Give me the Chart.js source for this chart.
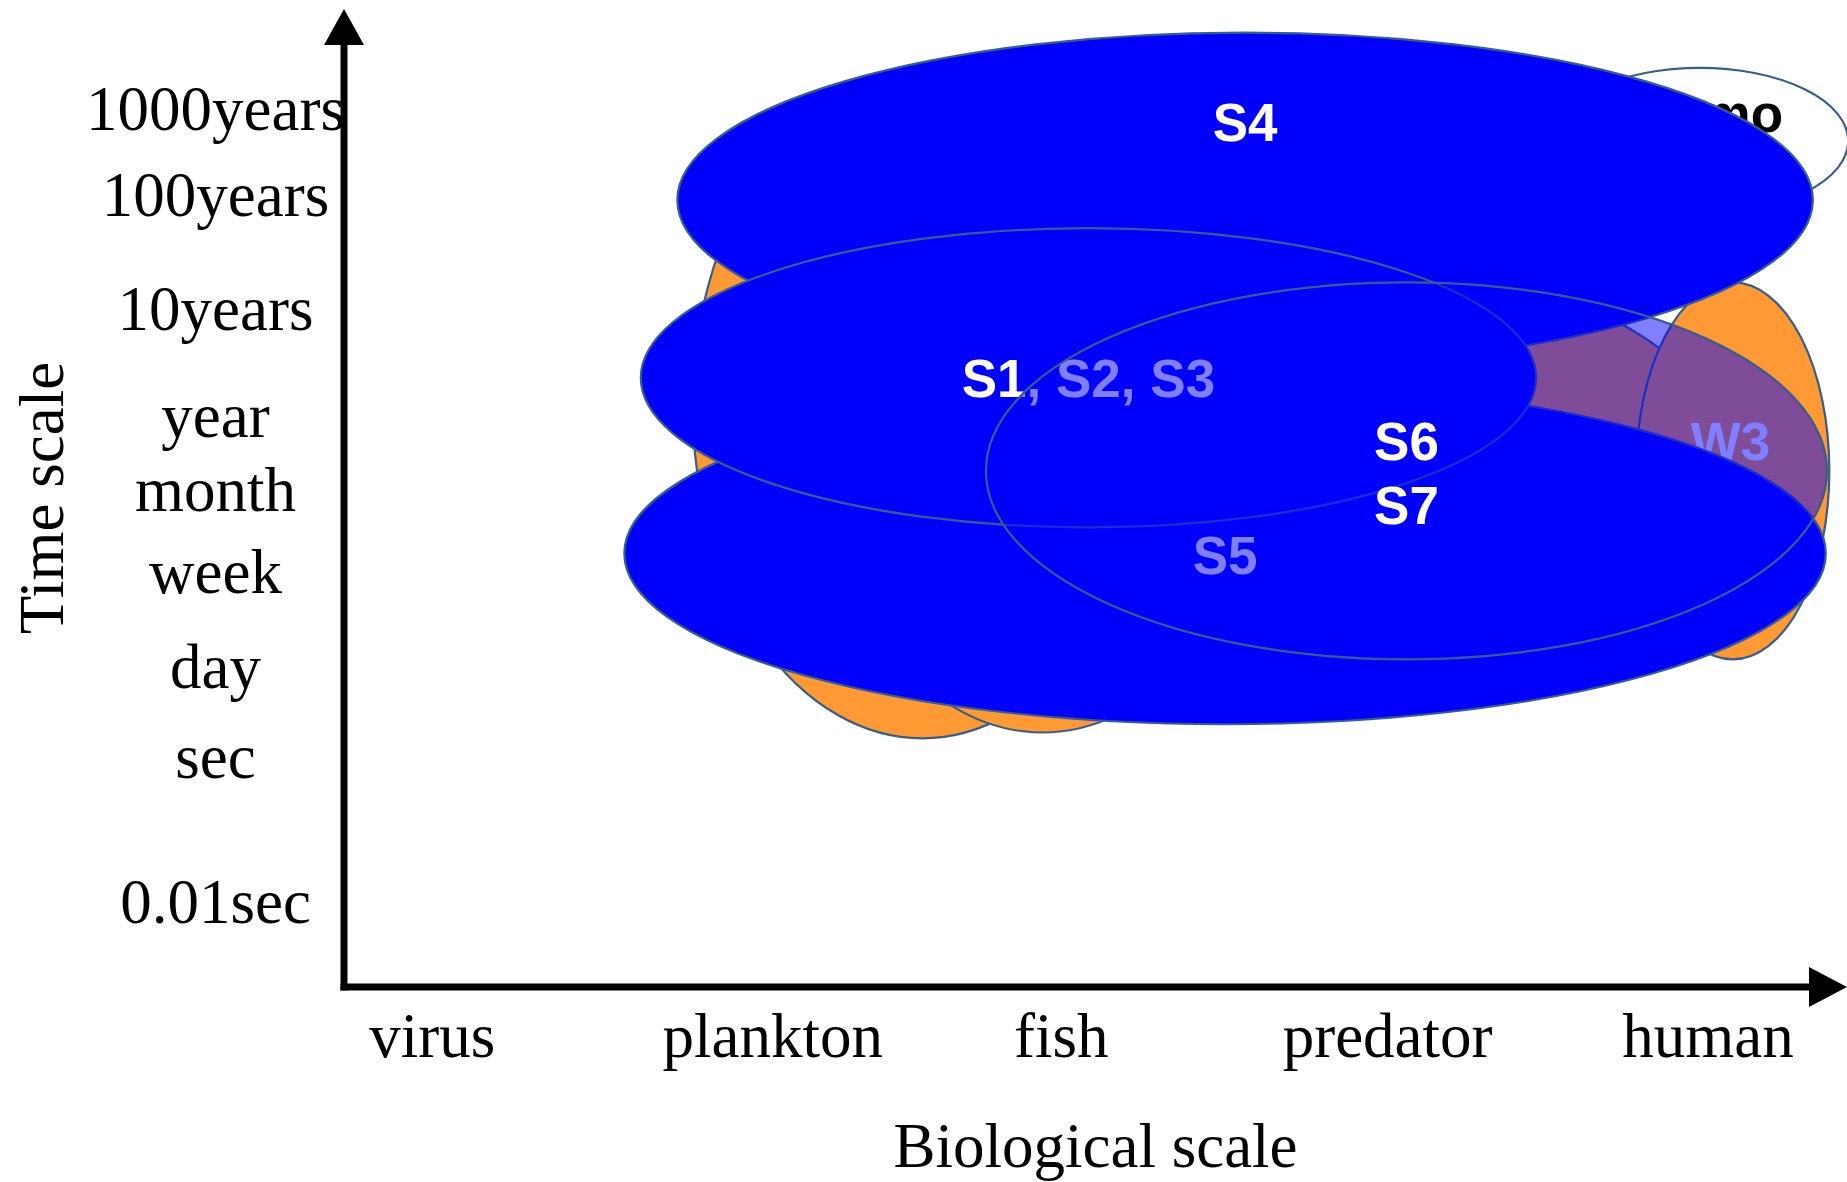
<!DOCTYPE html>
<html>
<head>
<meta charset="utf-8">
<title>Time scale / Biological scale</title>
<script src="https://cdn.jsdelivr.net/npm/chart.js@4.4.1/dist/chart.umd.min.js"></script>
<style>
  html, body { margin: 0; padding: 0; background: #fff; }
</style>
</head>
<body>
<canvas id="scaleChart" width="1847" height="1182"></canvas>
<script>
// axis ticks
const bioLabels = ['virus', 'plankton', 'fish', 'predator', 'human'];
const bioPos = [7.5, 36.4, 60.9, 88.6, 115.8];
const timeLabels = ['0.01sec', 'sec', 'day', 'week', 'month', 'year', '10years', '100years', '1000years'];
const timePos = [6.8, 19.1, 26.8, 34.8, 41.8, 48.1, 57.2, 66.8, 74.1];

// ellipses, in drawing order (centre and half-widths in axis units)
const shapeIds = ['Homo', 'Wplankton', 'Wfish', 'Wpredator', 'W3', 'S4', 'S5', 'S1', 'S6'];
const shapeKind = ['open', 'wave', 'wave', 'wave', 'wave', 'study', 'study', 'study', 'overlay'];
const centerX = [115.1, 49.1, 59.3, 89.8, 117.9, 76.5, 74.8, 63.2, 90.2];
const centerY = [71.8, 49.3, 43.8, 42.8, 43.8, 66.8, 36.8, 51.7, 43.8];
const spanX = [12.6, 19.5, 17.5, 28.5, 8.2, 48.2, 51.0, 38.0, 35.7];
const spanY = [6.2, 28.2, 22.2, 17.8, 16.0, 14.2, 14.5, 12.7, 16.0];

// text inside the ellipses
const labelText = ['Homo', 'W3', 'S4', 'S5', 'S1, S2, S3', 'S6', 'S7'];
const labelOwner = ['Homo', 'W3', 'S4', 'S5', 'S1', 'S6', 'S6'];
const labelX = [115.8, 117.7, 76.5, 74.8, 63.2, 90.2, 90.2];
const labelY = [73.8, 46.0, 73.0, 36.3, 51.3, 46.0, 40.5];

const fillColors = {
  open: '#ffffff',
  wave: '#ff9933',
  study: '#0000ff',
  overlay: 'rgba(0, 0, 255, 0.5)'
};
const serif = '"Liberation Serif", "Times New Roman", serif';

// ellipses + arrows drawn on top of the chart using its scales
const ellipsePlugin = {
  id: 'ellipses',
  afterDatasetsDraw(chart) {
    const ctx = chart.ctx;
    const xs = chart.scales.x;
    const ys = chart.scales.y;

    shapeIds.forEach((id, i) => {
      const cx = xs.getPixelForValue(centerX[i]);
      const cy = ys.getPixelForValue(centerY[i]);
      const rx = Math.abs(xs.getPixelForValue(centerX[i] + spanX[i]) - cx);
      const ry = Math.abs(ys.getPixelForValue(centerY[i] + spanY[i]) - cy);

      ctx.save();
      ctx.beginPath();
      ctx.ellipse(cx, cy, rx, ry, 0, 0, Math.PI * 2);
      ctx.fillStyle = fillColors[shapeKind[i]];
      ctx.fill();
      ctx.lineWidth = 2.2;
      ctx.strokeStyle = '#385d8a';
      ctx.stroke();

      ctx.font = 'bold 53px "Liberation Sans", Arial, sans-serif';
      ctx.textAlign = 'center';
      ctx.textBaseline = 'middle';
      labelText.forEach((t, j) => {
        if (labelOwner[j] !== id) return;
        ctx.fillStyle = shapeKind[i] === 'open' ? '#000000' : '#ffffff';
        ctx.fillText(t, xs.getPixelForValue(labelX[j]), ys.getPixelForValue(labelY[j]));
      });
      ctx.restore();
    });
  },
  afterDraw(chart) {
    const ctx = chart.ctx;
    const a = chart.chartArea;
    const w = 7;
    ctx.save();
    ctx.fillStyle = '#000';
    // vertical axis
    ctx.fillRect(a.left - w / 2, a.top + 30, w, a.bottom - a.top - 30 + w / 2);
    ctx.beginPath();
    ctx.moveTo(a.left, a.top);
    ctx.lineTo(a.left - 20, a.top + 36);
    ctx.lineTo(a.left + 20, a.top + 36);
    ctx.closePath();
    ctx.fill();
    // horizontal axis
    ctx.fillRect(a.left - w / 2, a.bottom - w / 2, a.right - a.left - 34, w);
    ctx.beginPath();
    ctx.moveTo(a.right, a.bottom);
    ctx.lineTo(a.right - 38, a.bottom - 20);
    ctx.lineTo(a.right - 38, a.bottom + 20);
    ctx.closePath();
    ctx.fill();
    ctx.restore();
  }
};

const ctx = document.getElementById('scaleChart').getContext('2d');

new Chart(ctx, {
  type: 'scatter',
  data: { datasets: [] },
  plugins: [ellipsePlugin],
  options: {
    responsive: false,
    animation: false,
    layout: { padding: { top: 9, right: 0, bottom: 0, left: 0 } },
    plugins: {
      legend: { display: false },
      tooltip: { enabled: false }
    },
    scales: {
      x: {
        type: 'linear',
        min: 0,
        max: 127.6,
        grid: { display: false, drawTicks: false },
        border: { display: false },
        afterBuildTicks: function (scale) {
          scale.ticks = bioPos.map(v => ({ value: v }));
        },
        afterFit: function (scale) {
          scale.height = 195;
          scale.paddingLeft = 0;
          scale.paddingRight = 0;
        },
        ticks: {
          autoSkip: false,
          maxRotation: 0,
          minRotation: 0,
          padding: 16,
          color: '#000',
          font: { family: serif, size: 63 },
          callback: function (value, index) {
            return bioLabels[index];
          }
        },
        title: {
          display: true,
          text: 'Biological scale',
          color: '#000',
          font: { family: serif, size: 63 },
          padding: { top: 0, bottom: -6 }
        }
      },
      y: {
        type: 'linear',
        min: 0,
        max: 83,
        grid: { display: false, drawTicks: false },
        border: { display: false },
        afterBuildTicks: function (scale) {
          scale.ticks = timePos.map(v => ({ value: v }));
        },
        afterFit: function (scale) {
          scale.width = 344;
          scale.paddingTop = 0;
          scale.paddingBottom = 0;
        },
        ticks: {
          autoSkip: false,
          crossAlign: 'center',
          padding: -1,
          color: '#000',
          font: { family: serif, size: 63 },
          callback: function (value, index) {
            return timeLabels[index];
          }
        },
        title: {
          display: true,
          text: 'Time scale',
          color: '#000',
          font: { family: serif, size: 63 },
          padding: { top: 9, bottom: 0 }
        }
      }
    }
  }
});
</script>
</body>
</html>
